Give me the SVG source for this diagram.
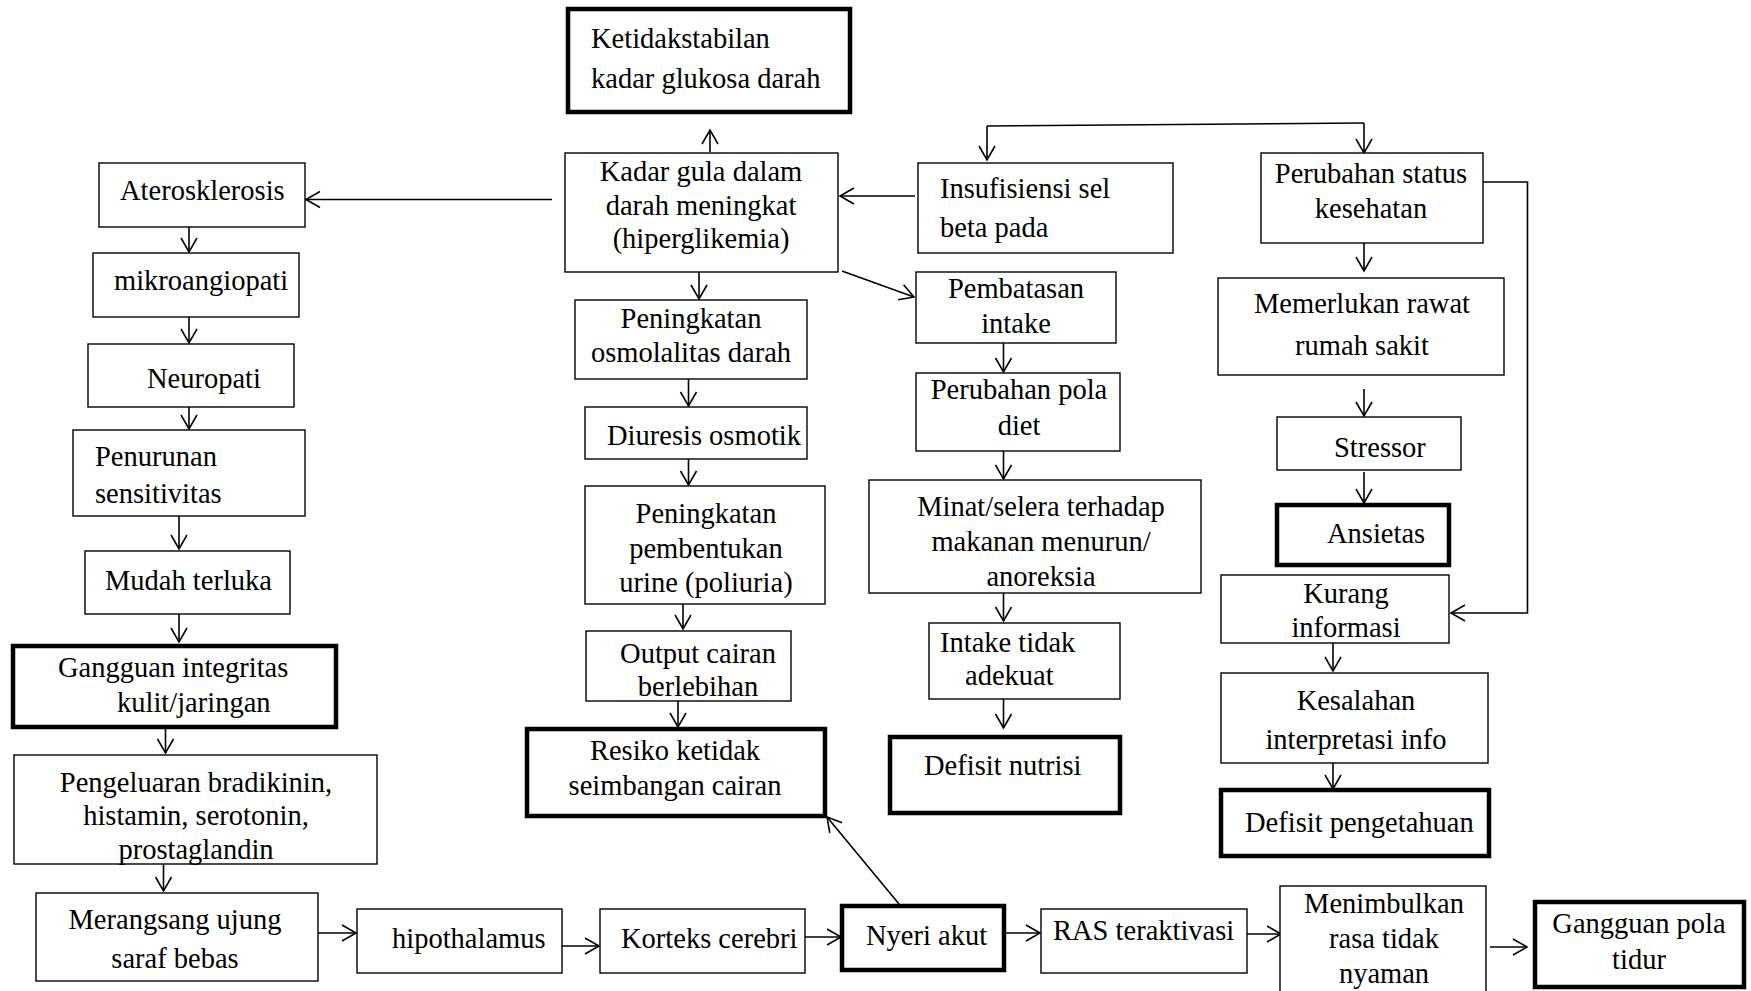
<svg xmlns="http://www.w3.org/2000/svg" width="1751" height="991" viewBox="0 0 1751 991">
<style>
rect{fill:#fff;stroke:#000;stroke-width:1.4}
rect.k{stroke-width:4.5}
text{font-family:"Liberation Serif","Times New Roman",serif;font-size:28.5px;fill:#000}
text.c{text-anchor:middle}
#connectors line,#connectors polyline{fill:none;stroke:#000;stroke-width:1.6}
</style>
<defs>
<marker id="ah" markerUnits="userSpaceOnUse" markerWidth="20" markerHeight="20" refX="15" refY="8" orient="auto" overflow="visible">
<path d="M1,0 L15,8 L1,16" fill="none" stroke="#000" stroke-width="1.6"/>
</marker>
</defs>
<rect x="0" y="0" width="1751" height="991" style="stroke:none"/>
<g id="connectors">
<line x1="710" y1="152" x2="710" y2="130" marker-end="url(#ah)"/>
<line x1="552" y1="199.5" x2="306" y2="199.5" marker-end="url(#ah)"/>
<line x1="915" y1="196" x2="840" y2="196" marker-end="url(#ah)"/>
<line x1="987" y1="126" x2="1364" y2="123"/>
<line x1="987" y1="126" x2="987" y2="160" marker-end="url(#ah)"/>
<line x1="1364" y1="123" x2="1364" y2="153" marker-end="url(#ah)"/>
<line x1="842" y1="271" x2="914" y2="297" marker-end="url(#ah)"/>
<line x1="699" y1="272" x2="699" y2="299" marker-end="url(#ah)"/>
<line x1="688.5" y1="379" x2="688.5" y2="406" marker-end="url(#ah)"/>
<line x1="688.5" y1="459" x2="688.5" y2="485" marker-end="url(#ah)"/>
<line x1="683" y1="604" x2="683" y2="629" marker-end="url(#ah)"/>
<line x1="678" y1="701" x2="678" y2="727" marker-end="url(#ah)"/>
<line x1="189" y1="227" x2="189" y2="252" marker-end="url(#ah)"/>
<line x1="189" y1="317" x2="189" y2="343" marker-end="url(#ah)"/>
<line x1="189" y1="407" x2="189" y2="429" marker-end="url(#ah)"/>
<line x1="179" y1="516" x2="179" y2="549" marker-end="url(#ah)"/>
<line x1="179" y1="614" x2="179" y2="642" marker-end="url(#ah)"/>
<line x1="165.5" y1="727" x2="165.5" y2="753" marker-end="url(#ah)"/>
<line x1="163.5" y1="864" x2="163.5" y2="891" marker-end="url(#ah)"/>
<line x1="318" y1="933" x2="356" y2="933" marker-end="url(#ah)"/>
<line x1="562" y1="946" x2="599" y2="946" marker-end="url(#ah)"/>
<line x1="805" y1="937" x2="841" y2="937" marker-end="url(#ah)"/>
<line x1="899" y1="904" x2="827" y2="817" marker-end="url(#ah)"/>
<line x1="1004" y1="933" x2="1040" y2="933" marker-end="url(#ah)"/>
<line x1="1247" y1="934" x2="1281" y2="934" marker-end="url(#ah)"/>
<line x1="1490" y1="947" x2="1527" y2="947" marker-end="url(#ah)"/>
<line x1="1003.5" y1="343" x2="1003.5" y2="372" marker-end="url(#ah)"/>
<line x1="1003.5" y1="451" x2="1003.5" y2="479" marker-end="url(#ah)"/>
<line x1="1003.5" y1="593" x2="1003.5" y2="621" marker-end="url(#ah)"/>
<line x1="1003.5" y1="699" x2="1003.5" y2="728" marker-end="url(#ah)"/>
<line x1="1364" y1="243" x2="1364" y2="271" marker-end="url(#ah)"/>
<line x1="1364" y1="389" x2="1364" y2="416" marker-end="url(#ah)"/>
<line x1="1364" y1="472" x2="1364" y2="503" marker-end="url(#ah)"/>
<polyline points="1483,182 1527.5,182 1527.5,613 1451,613" marker-end="url(#ah)"/>
<line x1="1333" y1="643" x2="1333" y2="671" marker-end="url(#ah)"/>
<line x1="1333" y1="763" x2="1333" y2="789" marker-end="url(#ah)"/>
</g>
<g id="n-ketidakstabilan"><rect class="k" x="568" y="9" width="282" height="103"/><text x="591" y="48">Ketidakstabilan</text><text x="591" y="88">kadar glukosa darah</text></g>
<g id="n-kadar-gula"><rect x="565" y="153" width="273" height="119"/><text class="c" x="701" y="181">Kadar gula dalam</text><text class="c" x="701" y="215">darah meningkat</text><text class="c" x="701" y="248">(hiperglikemia)</text></g>
<g id="n-insufisiensi"><rect x="918" y="163" width="255" height="90"/><text x="940" y="198">Insufisiensi sel</text><text x="940" y="237">beta pada</text></g>
<g id="n-aterosklerosis"><rect x="99" y="163" width="206" height="64"/><text x="120" y="200">Aterosklerosis</text></g>
<g id="n-mikroangiopati"><rect x="93" y="253" width="206" height="64"/><text x="114" y="290">mikroangiopati</text></g>
<g id="n-neuropati"><rect x="88" y="344" width="206" height="63"/><text x="147" y="388">Neuropati</text></g>
<g id="n-penurunan"><rect x="73" y="430" width="232" height="86"/><text x="95" y="466">Penurunan</text><text x="95" y="503">sensitivitas</text></g>
<g id="n-mudah-terluka"><rect x="85" y="551" width="205" height="63"/><text x="105" y="590">Mudah terluka</text></g>
<g id="n-gangguan-integritas"><rect class="k" x="13" y="646" width="323" height="81"/><text x="58" y="677">Gangguan integritas</text><text x="117" y="712">kulit/jaringan</text></g>
<g id="n-pengeluaran"><rect x="14" y="755" width="363" height="109"/><text class="c" x="196" y="792">Pengeluaran bradikinin,</text><text class="c" x="196" y="825">histamin, serotonin,</text><text class="c" x="196" y="859">prostaglandin</text></g>
<g id="n-merangsang"><rect x="36" y="893" width="282" height="88"/><text class="c" x="175" y="929">Merangsang ujung</text><text class="c" x="175" y="968">saraf bebas</text></g>
<g id="n-hipothalamus"><rect x="357" y="909" width="205" height="64"/><text x="392" y="948">hipothalamus</text></g>
<g id="n-korteks"><rect x="600" y="909" width="205" height="64"/><text x="621" y="948">Korteks cerebri</text></g>
<g id="n-nyeri-akut"><rect class="k" x="842" y="906" width="162" height="64"/><text x="866" y="945">Nyeri akut</text></g>
<g id="n-ras"><rect x="1041" y="909" width="206" height="64"/><text x="1053" y="940">RAS teraktivasi</text></g>
<g id="n-menimbulkan"><rect x="1280" y="886" width="206" height="115"/><text class="c" x="1384" y="913">Menimbulkan</text><text class="c" x="1384" y="948">rasa tidak</text><text class="c" x="1384" y="983">nyaman</text></g>
<g id="n-gangguan-tidur"><rect class="k" x="1535" y="902" width="209" height="85"/><text class="c" x="1639" y="933">Gangguan pola</text><text class="c" x="1639" y="969">tidur</text></g>
<g id="n-osmolalitas"><rect x="575" y="300" width="232" height="79"/><text class="c" x="691" y="328">Peningkatan</text><text class="c" x="691" y="362">osmolalitas darah</text></g>
<g id="n-diuresis"><rect x="585" y="407" width="222" height="52"/><text x="607" y="445">Diuresis osmotik</text></g>
<g id="n-poliuria"><rect x="585" y="486" width="240" height="118"/><text class="c" x="706" y="523">Peningkatan</text><text class="c" x="706" y="558">pembentukan</text><text class="c" x="706" y="592">urine (poliuria)</text></g>
<g id="n-output"><rect x="586" y="631" width="205" height="70"/><text class="c" x="698" y="663">Output cairan</text><text class="c" x="698" y="696">berlebihan</text></g>
<g id="n-resiko"><rect class="k" x="527" y="729" width="298" height="87"/><text class="c" x="675" y="760">Resiko ketidak</text><text class="c" x="675" y="795">seimbangan cairan</text></g>
<g id="n-pembatasan"><rect x="916" y="272" width="200" height="71"/><text class="c" x="1016" y="298">Pembatasan</text><text class="c" x="1016" y="333">intake</text></g>
<g id="n-pola-diet"><rect x="916" y="373" width="204" height="78"/><text class="c" x="1019" y="399">Perubahan pola</text><text class="c" x="1019" y="435">diet</text></g>
<g id="n-minat"><rect x="869" y="480" width="332" height="113"/><text class="c" x="1041" y="516">Minat/selera terhadap</text><text class="c" x="1041" y="551">makanan menurun/</text><text class="c" x="1041" y="586">anoreksia</text></g>
<g id="n-intake"><rect x="929" y="623" width="191" height="76"/><text x="940" y="652">Intake tidak</text><text x="965" y="685">adekuat</text></g>
<g id="n-defisit-nutrisi"><rect class="k" x="890" y="737" width="230" height="76"/><text x="924" y="775">Defisit nutrisi</text></g>
<g id="n-perubahan-status"><rect x="1261" y="153" width="222" height="90"/><text class="c" x="1371" y="183">Perubahan status</text><text class="c" x="1371" y="218">kesehatan</text></g>
<g id="n-memerlukan"><rect x="1218" y="278" width="286" height="97"/><text class="c" x="1362" y="313">Memerlukan rawat</text><text class="c" x="1362" y="355">rumah sakit</text></g>
<g id="n-stressor"><rect x="1277" y="417" width="184" height="53"/><text x="1334" y="457">Stressor</text></g>
<g id="n-ansietas"><rect class="k" x="1277" y="505" width="172" height="60"/><text x="1327" y="543">Ansietas</text></g>
<g id="n-kurang-informasi"><rect x="1221" y="575" width="228" height="68"/><text class="c" x="1346" y="603">Kurang</text><text class="c" x="1346" y="637">informasi</text></g>
<g id="n-kesalahan"><rect x="1221" y="673" width="267" height="90"/><text class="c" x="1356" y="710">Kesalahan</text><text class="c" x="1356" y="749">interpretasi info</text></g>
<g id="n-defisit-pengetahuan"><rect class="k" x="1221" y="790" width="268" height="66"/><text x="1245" y="832">Defisit pengetahuan</text></g>
</svg>
